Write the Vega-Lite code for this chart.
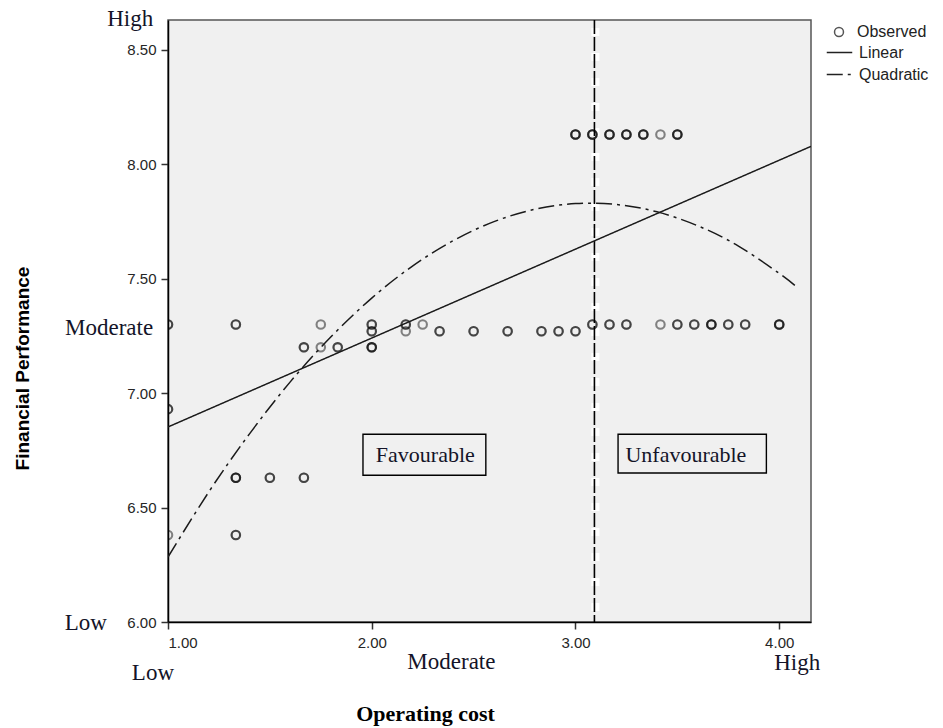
{
  "$schema": "https://vega.github.io/schema/vega-lite/v6.json",
  "width": 643,
  "height": 602,
  "autosize": "none",
  "padding": {"left": 168, "top": 20, "right": 132, "bottom": 106},
  "background": "white",
  "config": {
    "view": {"fill": "#f0f0f0", "stroke": "#555555", "strokeWidth": 1.5}
  },
  "datasets": {
    "observed": [
      {"x": 3.0, "y": 8.13}, {"x": 3.0, "y": 8.13}, {"x": 3.0, "y": 8.13},
      {"x": 3.083, "y": 8.13}, {"x": 3.083, "y": 8.13}, {"x": 3.083, "y": 8.13},
      {"x": 3.167, "y": 8.13}, {"x": 3.167, "y": 8.13}, {"x": 3.167, "y": 8.13},
      {"x": 3.25, "y": 8.13}, {"x": 3.25, "y": 8.13}, {"x": 3.25, "y": 8.13},
      {"x": 3.333, "y": 8.13}, {"x": 3.333, "y": 8.13}, {"x": 3.333, "y": 8.13},
      {"x": 3.417, "y": 8.13},
      {"x": 3.5, "y": 8.13}, {"x": 3.5, "y": 8.13}, {"x": 3.5, "y": 8.13},
      {"x": 1.0, "y": 7.30}, {"x": 1.0, "y": 7.30},
      {"x": 1.333, "y": 7.30}, {"x": 1.333, "y": 7.30},
      {"x": 1.75, "y": 7.30},
      {"x": 2.0, "y": 7.30}, {"x": 2.0, "y": 7.30},
      {"x": 2.167, "y": 7.30}, {"x": 2.167, "y": 7.30},
      {"x": 2.25, "y": 7.30},
      {"x": 3.083, "y": 7.30}, {"x": 3.083, "y": 7.30},
      {"x": 3.167, "y": 7.30}, {"x": 3.167, "y": 7.30},
      {"x": 3.25, "y": 7.30}, {"x": 3.25, "y": 7.30},
      {"x": 3.417, "y": 7.30},
      {"x": 3.5, "y": 7.30}, {"x": 3.5, "y": 7.30},
      {"x": 3.583, "y": 7.30}, {"x": 3.583, "y": 7.30},
      {"x": 3.667, "y": 7.30}, {"x": 3.667, "y": 7.30}, {"x": 3.667, "y": 7.30},
      {"x": 3.75, "y": 7.30}, {"x": 3.75, "y": 7.30},
      {"x": 3.833, "y": 7.30}, {"x": 3.833, "y": 7.30},
      {"x": 4.0, "y": 7.30}, {"x": 4.0, "y": 7.30}, {"x": 4.0, "y": 7.30},
      {"x": 2.0, "y": 7.27}, {"x": 2.0, "y": 7.27},
      {"x": 2.167, "y": 7.27},
      {"x": 2.333, "y": 7.27}, {"x": 2.333, "y": 7.27},
      {"x": 2.5, "y": 7.27}, {"x": 2.5, "y": 7.27},
      {"x": 2.667, "y": 7.27}, {"x": 2.667, "y": 7.27},
      {"x": 2.833, "y": 7.27}, {"x": 2.833, "y": 7.27},
      {"x": 2.917, "y": 7.27}, {"x": 2.917, "y": 7.27},
      {"x": 3.0, "y": 7.27}, {"x": 3.0, "y": 7.27},
      {"x": 1.667, "y": 7.20}, {"x": 1.667, "y": 7.20},
      {"x": 1.75, "y": 7.20},
      {"x": 1.833, "y": 7.20}, {"x": 1.833, "y": 7.20},
      {"x": 2.0, "y": 7.20}, {"x": 2.0, "y": 7.20}, {"x": 2.0, "y": 7.20},
      {"x": 1.0, "y": 6.93}, {"x": 1.0, "y": 6.93},
      {"x": 1.333, "y": 6.63}, {"x": 1.333, "y": 6.63}, {"x": 1.333, "y": 6.63},
      {"x": 1.5, "y": 6.63}, {"x": 1.5, "y": 6.63},
      {"x": 1.667, "y": 6.63}, {"x": 1.667, "y": 6.63},
      {"x": 1.0, "y": 6.38},
      {"x": 1.333, "y": 6.38}, {"x": 1.333, "y": 6.38}
    ],
    "fits": [
      {"fit": "Linear", "x": 1.0, "y": 6.852},
      {"fit": "Linear", "x": 4.156, "y": 8.078},
      {"fit": "Quadratic", "x": 1.0, "y": 6.284},
      {"fit": "Quadratic", "x": 1.2, "y": 6.568},
      {"fit": "Quadratic", "x": 1.4, "y": 6.822},
      {"fit": "Quadratic", "x": 1.6, "y": 7.049},
      {"fit": "Quadratic", "x": 1.8, "y": 7.246},
      {"fit": "Quadratic", "x": 2.0, "y": 7.415},
      {"fit": "Quadratic", "x": 2.2, "y": 7.555},
      {"fit": "Quadratic", "x": 2.4, "y": 7.666},
      {"fit": "Quadratic", "x": 2.6, "y": 7.749},
      {"fit": "Quadratic", "x": 2.8, "y": 7.803},
      {"fit": "Quadratic", "x": 3.0, "y": 7.828},
      {"fit": "Quadratic", "x": 3.2, "y": 7.824},
      {"fit": "Quadratic", "x": 3.4, "y": 7.792},
      {"fit": "Quadratic", "x": 3.6, "y": 7.731},
      {"fit": "Quadratic", "x": 3.8, "y": 7.642},
      {"fit": "Quadratic", "x": 4.0, "y": 7.523},
      {"fit": "Quadratic", "x": 4.08, "y": 7.468}
    ],
    "cutoff": [{"x": 3.093}],
    "boxes": [
      {"x": 1.957, "x2": 2.560, "y": 6.820, "y2": 6.641, "label": "Favourable", "tx": 2.263, "ty": 6.728},
      {"x": 3.209, "x2": 3.937, "y": 6.820, "y2": 6.651, "label": "Unfavourable", "tx": 3.542, "ty": 6.728}
    ],
    "ylabels": [
      {"label": "High", "x": 0.927, "y": 8.635},
      {"label": "Moderate", "x": 0.927, "y": 7.283},
      {"label": "Low", "x": 0.700, "y": 5.996}
    ],
    "xlabels": [
      {"label": "Low", "x": 0.926, "y": 5.776},
      {"label": "Moderate", "x": 2.391, "y": 5.824},
      {"label": "High", "x": 4.088, "y": 5.819}
    ]
  },
  "layer": [
    {
      "data": {"name": "cutoff"},
      "mark": {"type": "rule", "color": "white", "strokeWidth": 8, "strokeDash": [8, 17], "strokeDashOffset": -8, "xOffset": 1},
      "encoding": {
        "x": {
          "field": "x", "type": "quantitative",
          "scale": {"domain": [1, 4.156], "nice": false, "zero": false},
          "axis": {
            "values": [1, 2, 3, 4], "format": ".2f", "grid": false,
            "title": "Operating  cost",
            "titleFont": "Liberation Serif", "titleFontSize": 22, "titleFontWeight": "bold", "titleColor": "black",
            "titleX": 257, "titleY": 91, "titleAlign": "center", "titleBaseline": "middle",
            "labelFont": "Liberation Sans", "labelFontSize": 15, "labelColor": "#262626", "labelPadding": 6,
            "domainColor": "black", "domainWidth": 1.5, "tickColor": "#333333", "tickSize": 7, "tickWidth": 1.5
          }
        }
      }
    },
    {
      "data": {"name": "cutoff"},
      "mark": {"type": "rule", "color": "black", "strokeWidth": 1.6, "strokeDash": [14, 3]},
      "encoding": {
        "x": {"field": "x", "type": "quantitative"}
      }
    },
    {
      "data": {"name": "observed"},
      "mark": {"type": "point", "filled": false, "size": 72, "strokeWidth": 2.1, "color": "black", "strokeOpacity": 0.66, "clip": true},
      "encoding": {
        "x": {"field": "x", "type": "quantitative"},
        "y": {
          "field": "y", "type": "quantitative",
          "scale": {"domain": [6, 8.63], "nice": false, "zero": false},
          "axis": {
            "values": [6, 6.5, 7, 7.5, 8, 8.5], "format": ".2f", "grid": false,
            "title": "Financial  Performance",
            "titleFont": "Liberation Sans", "titleFontSize": 19, "titleFontWeight": "bold", "titleColor": "black",
            "titleAngle": -90, "titleX": -146, "titleY": 348, "titleAlign": "center", "titleBaseline": "middle",
            "labelFont": "Liberation Sans", "labelFontSize": 15, "labelColor": "#262626", "labelPadding": 5,
            "domainColor": "black", "domainWidth": 1.5, "tickColor": "#333333", "tickSize": 7, "tickWidth": 1.5
          }
        },
        "shape": {
          "datum": "Observed",
          "scale": {"domain": ["Observed"], "range": ["circle"]},
          "legend": {
            "title": null, "orient": "none", "legendX": 663, "legendY": 4, "padding": 0,
            "symbolSize": 80, "symbolStrokeColor": "#555555", "symbolStrokeWidth": 1.5, "symbolFillColor": "transparent", "symbolOpacity": 1,
            "labelFont": "Liberation Sans", "labelFontSize": 16, "labelColor": "#222222", "labelOffset": 10
          }
        }
      }
    },
    {
      "data": {"name": "fits"},
      "mark": {"type": "line", "color": "#1a1a1a", "strokeWidth": 1.5, "interpolate": "natural", "clip": true},
      "encoding": {
        "x": {"field": "x", "type": "quantitative"},
        "y": {"field": "y", "type": "quantitative"},
        "strokeDash": {
          "field": "fit", "type": "nominal",
          "scale": {"domain": ["Linear", "Quadratic"], "range": [[1, 0], [16, 5, 3, 5]]},
          "legend": {
            "title": null, "orient": "none", "legendX": 658, "legendY": 19, "padding": 0,
            "symbolType": "stroke", "symbolSize": 650, "symbolStrokeColor": "#222222", "symbolStrokeWidth": 1.5,
            "labelFont": "Liberation Sans", "labelFontSize": 16, "labelColor": "#222222", "labelOffset": 6, "rowPadding": -2
          }
        }
      }
    },
    {
      "data": {"name": "boxes"},
      "mark": {"type": "rect", "fill": null, "fillOpacity": 0, "stroke": "black", "strokeWidth": 1.4},
      "encoding": {
        "x": {"field": "x", "type": "quantitative"},
        "x2": {"field": "x2"},
        "y": {"field": "y", "type": "quantitative"},
        "y2": {"field": "y2"}
      }
    },
    {
      "data": {"name": "boxes"},
      "mark": {"type": "text", "font": "Liberation Serif", "fontSize": 22, "color": "#141428", "align": "center", "baseline": "middle"},
      "encoding": {
        "x": {"field": "tx", "type": "quantitative"},
        "y": {"field": "ty", "type": "quantitative"},
        "text": {"field": "label"}
      }
    },
    {
      "data": {"name": "ylabels"},
      "mark": {"type": "text", "font": "Liberation Serif", "fontSize": 23, "color": "#141428", "align": "right", "baseline": "middle"},
      "encoding": {
        "x": {"field": "x", "type": "quantitative"},
        "y": {"field": "y", "type": "quantitative"},
        "text": {"field": "label"}
      }
    },
    {
      "data": {"name": "xlabels"},
      "mark": {"type": "text", "font": "Liberation Serif", "fontSize": 23, "color": "#141428", "align": "center", "baseline": "middle"},
      "encoding": {
        "x": {"field": "x", "type": "quantitative"},
        "y": {"field": "y", "type": "quantitative"},
        "text": {"field": "label"}
      }
    }
  ]
}
